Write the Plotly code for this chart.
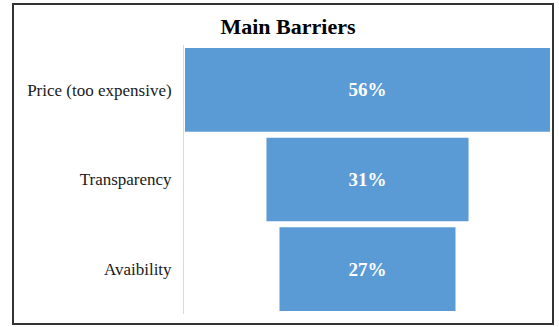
import plotly.graph_objects as go

# Survey results: share of respondents naming each barrier
barriers = ["Price (too expensive)", "Transparency", "Avaibility"]
shares = [56, 31, 27]

W, H = 559, 327
plot_left, plot_right = 184, 551
plot_top, plot_bottom = 45, 314

fig = go.Figure(
    go.Funnel(
        y=barriers,
        x=shares,
        texttemplate="%{x}%",
        textposition="inside",
        insidetextanchor="middle",
        textfont=dict(family="Liberation Serif", size=19, color="white", weight="bold"),
        marker=dict(color="#5B9BD5", line=dict(width=0)),
        connector=dict(visible=False),
        hoverinfo="skip",
    )
)

half = max(shares) / 2 + 0.15

def px_to_paper_x(px):
    return (px - plot_left) / (plot_right - plot_left)

def px_to_paper_y(py):
    return (plot_bottom - py) / (plot_bottom - plot_top)

fig.update_layout(
    width=W,
    height=H,
    margin=dict(l=plot_left, r=W - plot_right, t=plot_top, b=H - plot_bottom),
    paper_bgcolor="white",
    plot_bgcolor="white",
    funnelgap=0.066,
    showlegend=False,
    title=dict(
        text="<b>Main Barriers</b>",
        x=px_to_paper_x(288),
        xref="paper",
        xanchor="center",
        y=1 - 26 / H,
        yanchor="middle",
        font=dict(family="Liberation Serif", size=22, color="black"),
    ),
    xaxis=dict(range=[-half, half], visible=False, fixedrange=True),
    yaxis=dict(
        showline=True,
        linecolor="#d9d9d9",
        linewidth=1,
        ticks="",
        ticklabelstandoff=8,
        tickfont=dict(family="Liberation Serif", size=17, color="#1a1a1a"),
        showgrid=False,
    ),
    shapes=[
        dict(
            type="rect",
            xref="paper",
            yref="paper",
            x0=px_to_paper_x(13),
            x1=px_to_paper_x(553),
            y0=px_to_paper_y(324),
            y1=px_to_paper_y(4),
            line=dict(color="#333333", width=2),
            fillcolor="rgba(0,0,0,0)",
            layer="above",
        )
    ],
)

fig.write_html("out.html")
